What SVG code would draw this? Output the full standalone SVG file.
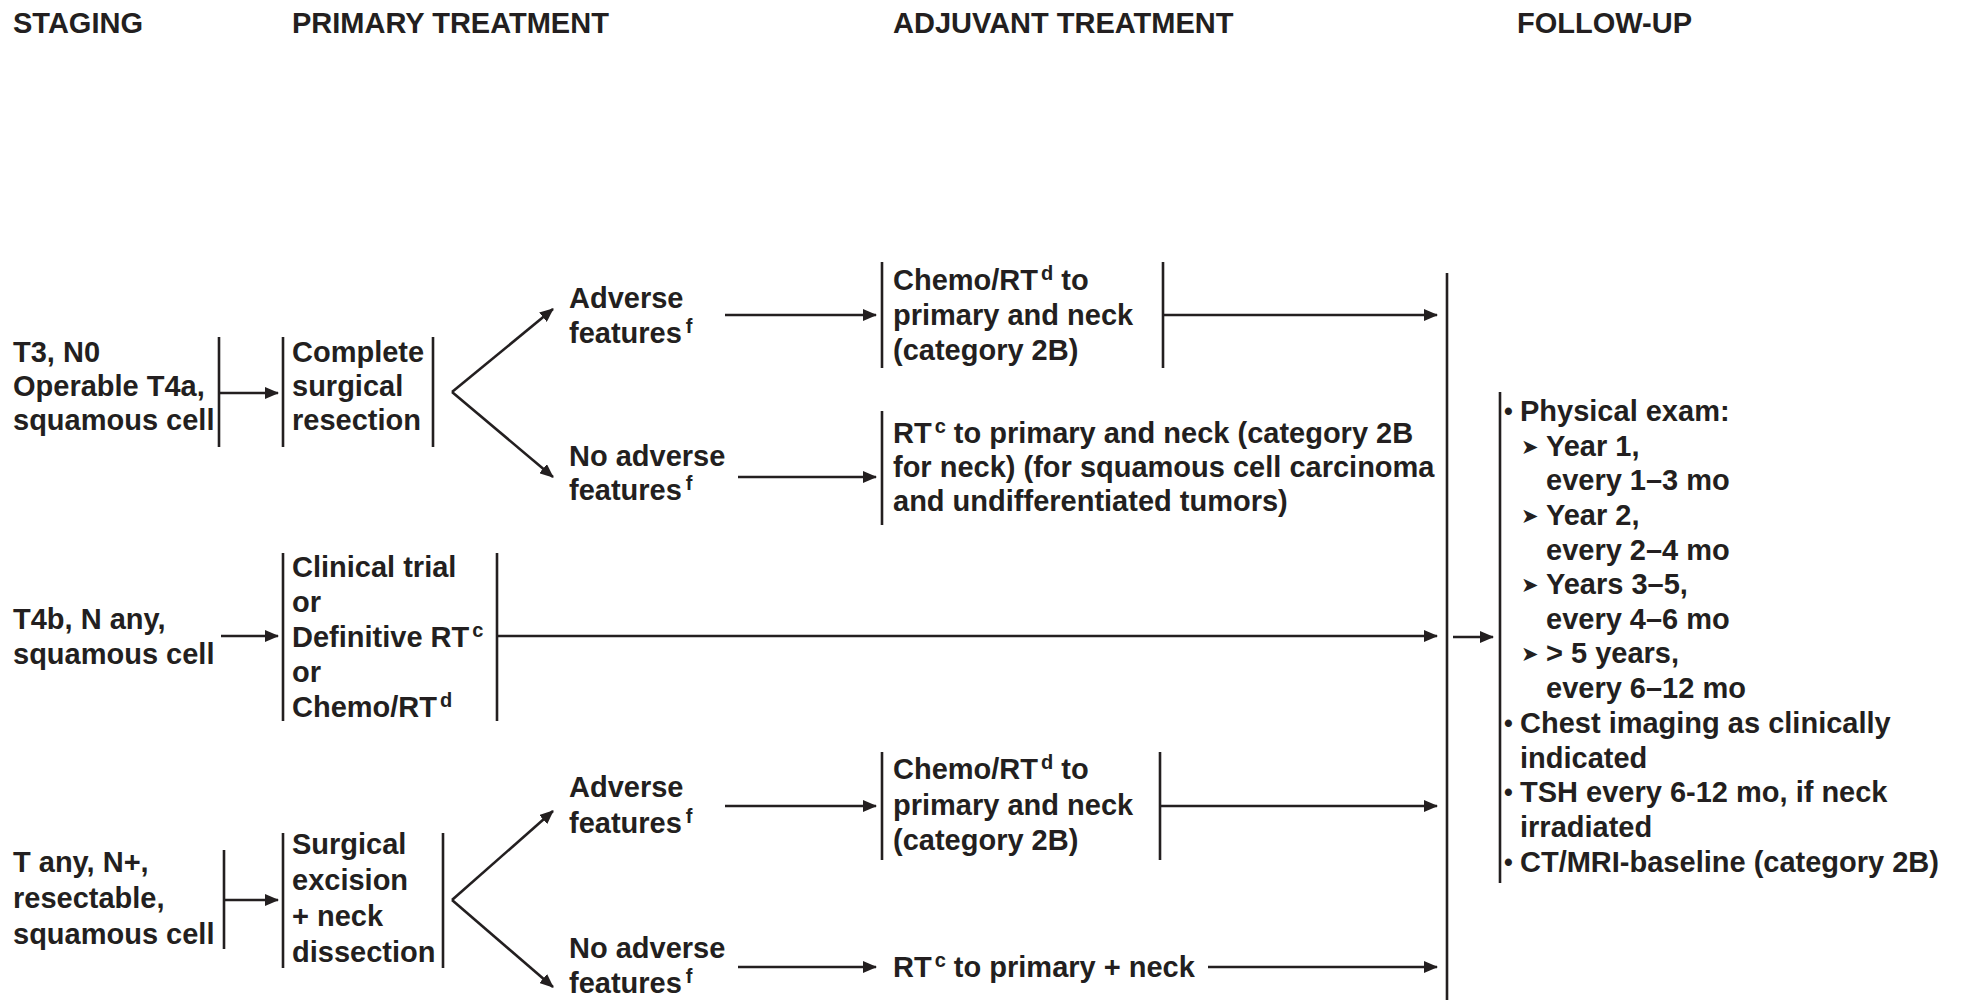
<svg xmlns="http://www.w3.org/2000/svg" width="1984" height="1000" viewBox="0 0 1984 1000">
  <style>
    .t { font-family: "Liberation Sans", Arial, Helvetica, sans-serif; font-weight: bold; font-size: 29px; fill: #231f20; }
    .h { font-family: "Liberation Sans", Arial, Helvetica, sans-serif; font-weight: bold; font-size: 29px; fill: #231f20; }
    .sup { font-size: 20px; }
    .dot { font-size: 25px; }
    .bar { stroke: #231f20; stroke-width: 2.6; fill: none; }
    .con { stroke: #231f20; stroke-width: 2.6; fill: none; }
    .arr { marker-end: url(#head); }
    .mk { font-family: "DejaVu Sans", sans-serif; font-size: 21px; fill: #231f20; }
  </style>
  <defs>
    <marker id="head" markerUnits="userSpaceOnUse" viewBox="0 0 14 12" refX="13" refY="6" markerWidth="14" markerHeight="12" orient="auto">
      <path d="M0,0 L14,6 L0,12 z" fill="#231f20"/>
    </marker>
  </defs>
  <rect width="1984" height="1000" fill="#ffffff"/>

  <!-- column headings -->
  <g id="headings">
    <text class="h" x="13" y="33">STAGING</text>
    <text class="h" x="292" y="33">PRIMARY TREATMENT</text>
    <text class="h" x="893" y="33">ADJUVANT TREATMENT</text>
    <text class="h" x="1517" y="33">FOLLOW-UP</text>
  </g>

  <!-- row 1: T3, N0 / operable T4a -->
  <g id="stage-t3">
    <text class="t" x="13" y="362">T3, N0</text>
    <text class="t" x="13" y="396">Operable T4a,</text>
    <text class="t" x="13" y="430">squamous cell</text>
    <line class="bar" x1="219" y1="337" x2="219" y2="447"/>
  </g>
  <g id="complete-resection">
    <line class="bar" x1="283" y1="337" x2="283" y2="447"/>
    <text class="t" x="292" y="362">Complete</text>
    <text class="t" x="292" y="396">surgical</text>
    <text class="t" x="292" y="430">resection</text>
    <line class="bar" x1="433" y1="337" x2="433" y2="447"/>
  </g>
  <g id="adverse-1">
    <text class="t" x="569" y="308">Adverse</text>
    <text class="t" x="569" y="343">features<tspan class="sup" dx="4" dy="-10">f</tspan></text>
  </g>
  <g id="chemo-rt-1">
    <line class="bar" x1="882" y1="262" x2="882" y2="368"/>
    <text class="t" x="893" y="290">Chemo/RT<tspan class="sup" dx="3" dy="-10">d</tspan><tspan dy="10"> to</tspan></text>
    <text class="t" x="893" y="325">primary and neck</text>
    <text class="t" x="893" y="360">(category 2B)</text>
    <line class="bar" x1="1163" y1="262" x2="1163" y2="368"/>
  </g>
  <g id="no-adverse-1">
    <text class="t" x="569" y="466">No adverse</text>
    <text class="t" x="569" y="500">features<tspan class="sup" dx="4" dy="-10">f</tspan></text>
  </g>
  <g id="rt-1">
    <line class="bar" x1="882" y1="411" x2="882" y2="525"/>
    <text class="t" x="893" y="443">RT<tspan class="sup" dx="3" dy="-10">c</tspan><tspan dy="10"> to primary and neck (category 2B</tspan></text>
    <text class="t" x="893" y="477">for neck) (for squamous cell carcinoma</text>
    <text class="t" x="893" y="511">and undifferentiated tumors)</text>
  </g>

  <!-- row 2: T4b -->
  <g id="stage-t4b">
    <text class="t" x="13" y="629">T4b, N any,</text>
    <text class="t" x="13" y="664">squamous cell</text>
  </g>
  <g id="t4b-options">
    <line class="bar" x1="283" y1="553" x2="283" y2="721"/>
    <text class="t" x="292" y="577">Clinical trial</text>
    <text class="t" x="292" y="612">or</text>
    <text class="t" x="292" y="647">Definitive RT<tspan class="sup" dx="3" dy="-10">c</tspan></text>
    <text class="t" x="292" y="682">or</text>
    <text class="t" x="292" y="717">Chemo/RT<tspan class="sup" dx="3" dy="-10">d</tspan></text>
    <line class="bar" x1="497" y1="553" x2="497" y2="721"/>
  </g>

  <!-- row 3: T any, N+ -->
  <g id="stage-nplus">
    <text class="t" x="13" y="872">T any, N+,</text>
    <text class="t" x="13" y="908">resectable,</text>
    <text class="t" x="13" y="944">squamous cell</text>
    <line class="bar" x1="224" y1="850" x2="224" y2="949"/>
  </g>
  <g id="excision-dissection">
    <line class="bar" x1="283" y1="833" x2="283" y2="968"/>
    <text class="t" x="292" y="854">Surgical</text>
    <text class="t" x="292" y="890">excision</text>
    <text class="t" x="292" y="926">+ neck</text>
    <text class="t" x="292" y="962">dissection</text>
    <line class="bar" x1="443" y1="833" x2="443" y2="968"/>
  </g>
  <g id="adverse-2">
    <text class="t" x="569" y="797">Adverse</text>
    <text class="t" x="569" y="833">features<tspan class="sup" dx="4" dy="-10">f</tspan></text>
  </g>
  <g id="chemo-rt-2">
    <line class="bar" x1="882" y1="752" x2="882" y2="860"/>
    <text class="t" x="893" y="779">Chemo/RT<tspan class="sup" dx="3" dy="-10">d</tspan><tspan dy="10"> to</tspan></text>
    <text class="t" x="893" y="815">primary and neck</text>
    <text class="t" x="893" y="850">(category 2B)</text>
    <line class="bar" x1="1160" y1="752" x2="1160" y2="860"/>
  </g>
  <g id="no-adverse-2">
    <text class="t" x="569" y="958">No adverse</text>
    <text class="t" x="569" y="993">features<tspan class="sup" dx="4" dy="-10">f</tspan></text>
  </g>
  <g id="rt-2">
    <text class="t" x="893" y="977">RT<tspan class="sup" dx="3" dy="-10">c</tspan><tspan dy="10"> to primary + neck</tspan></text>
  </g>

  <!-- follow-up schedule -->
  <g id="follow-up">
    <line class="bar" x1="1500" y1="392" x2="1500" y2="883"/>
    <text class="t dot" x="1504" y="420">•</text>
    <text class="t" x="1520" y="421">Physical exam:</text>
    <text class="mk" x="1521" y="454">➤</text>
    <text class="t" x="1546" y="456">Year 1,</text>
    <text class="t" x="1546" y="490">every 1–3 mo</text>
    <text class="mk" x="1521" y="523">➤</text>
    <text class="t" x="1546" y="525">Year 2,</text>
    <text class="t" x="1546" y="560">every 2–4 mo</text>
    <text class="mk" x="1521" y="592">➤</text>
    <text class="t" x="1546" y="594">Years 3–5,</text>
    <text class="t" x="1546" y="629">every 4–6 mo</text>
    <text class="mk" x="1521" y="661">➤</text>
    <text class="t" x="1546" y="663">&gt; 5 years,</text>
    <text class="t" x="1546" y="698">every 6–12 mo</text>
    <text class="t dot" x="1504" y="732">•</text>
    <text class="t" x="1520" y="733">Chest imaging as clinically</text>
    <text class="t" x="1520" y="768">indicated</text>
    <text class="t dot" x="1504" y="801">•</text>
    <text class="t" x="1520" y="802">TSH every 6-12 mo, if neck</text>
    <text class="t" x="1520" y="837">irradiated</text>
    <text class="t dot" x="1504" y="871">•</text>
    <text class="t" x="1520" y="872">CT/MRI-baseline (category 2B)</text>
  </g>

  <!-- connectors -->
  <g id="connectors">
    <line class="con arr" x1="219" y1="393" x2="278" y2="393"/>
    <line class="con arr" x1="452" y1="392" x2="553" y2="309"/>
    <line class="con arr" x1="452" y1="392" x2="553" y2="477"/>
    <line class="con arr" x1="725" y1="315" x2="876" y2="315"/>
    <line class="con arr" x1="1163" y1="315" x2="1437" y2="315"/>
    <line class="con arr" x1="738" y1="477" x2="876" y2="477"/>

    <line class="con arr" x1="221" y1="636" x2="278" y2="636"/>
    <line class="con arr" x1="497" y1="636" x2="1437" y2="636"/>

    <line class="con arr" x1="224" y1="900" x2="278" y2="900"/>
    <line class="con arr" x1="452" y1="900" x2="553" y2="811"/>
    <line class="con arr" x1="452" y1="900" x2="553" y2="987"/>
    <line class="con arr" x1="725" y1="806" x2="876" y2="806"/>
    <line class="con arr" x1="1160" y1="806" x2="1437" y2="806"/>
    <line class="con arr" x1="738" y1="967" x2="876" y2="967"/>
    <line class="con arr" x1="1208" y1="967" x2="1437" y2="967"/>

    <line class="con" x1="1447" y1="273" x2="1447" y2="1000"/>
    <line class="con arr" x1="1453" y1="637" x2="1493" y2="637"/>
  </g>
</svg>
